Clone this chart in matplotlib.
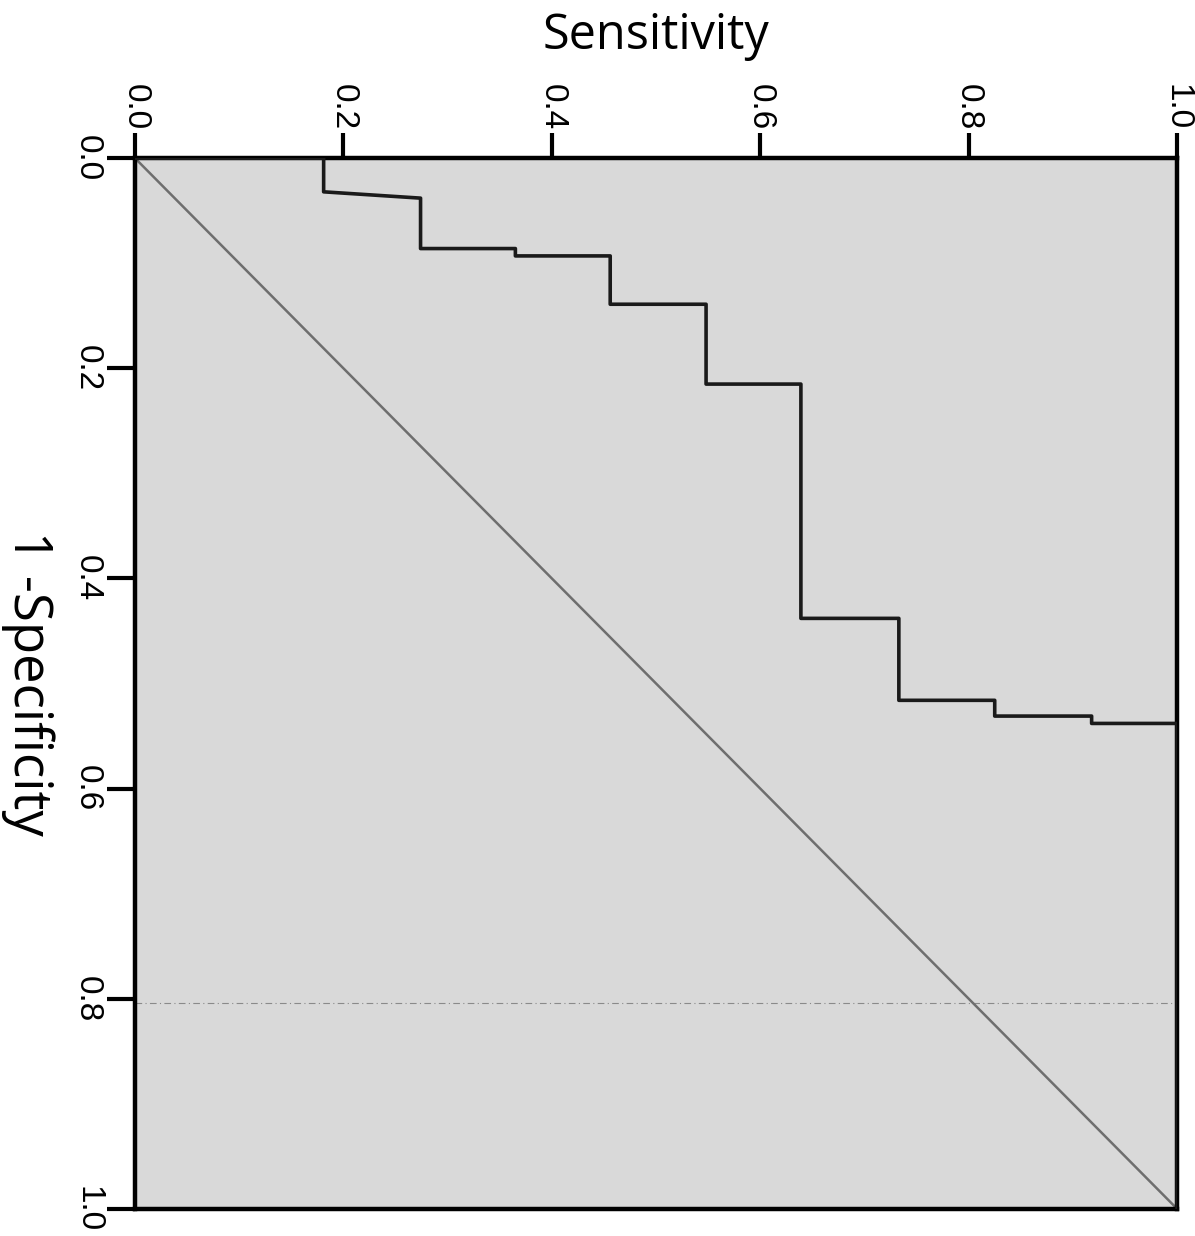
"""Rotated ROC curve: sensitivity along the top, 1 - specificity running down."""

import matplotlib
matplotlib.use("Agg")
import matplotlib.pyplot as plt

# ROC corner points (sensitivity, 1 - specificity)
sensitivity = [0.0, 0.181, 0.181, 0.274, 0.274, 0.365, 0.365, 0.456, 0.456,
               0.548, 0.548, 0.639, 0.639, 0.733, 0.733, 0.825, 0.825,
               0.918, 0.918, 1.0, 1.0]
one_minus_spec = [0.0, 0.0, 0.032, 0.038, 0.086, 0.086, 0.093, 0.093, 0.139,
                  0.139, 0.215, 0.215, 0.438, 0.438, 0.516, 0.516, 0.531,
                  0.531, 0.538, 0.538, 1.0]
ref_line = [0.0, 1.0]
ticks = [0.0, 0.2, 0.4, 0.6, 0.8, 1.0]
tick_labels = ["0.0", "0.2", "0.4", "0.6", "0.8", "1.0"]

plt.rcParams["font.family"] = ["Liberation Sans", "DejaVu Sans"]

fig = plt.figure(figsize=(11.95, 12.36), dpi=100)
ax = fig.add_axes([0.113, 0.022, 0.872, 0.850])
ax.set_facecolor("#d9d9d9")

ax.plot(ref_line, ref_line, color="#6e6e6e", linewidth=1.8, zorder=2)
ax.plot(sensitivity, one_minus_spec, color="#1a1a1a", linewidth=2.6, zorder=3)
ax.axhline(0.804, color="#8a8a8a", linewidth=0.8, linestyle=(0, (6, 3, 1, 3)), zorder=1)

ax.set_xlim(0, 1)
ax.set_ylim(1, 0)
ax.xaxis.tick_top()
ax.xaxis.set_label_position("top")
ax.set_xticks(ticks)
ax.set_yticks(ticks)
ax.set_xticklabels(tick_labels, rotation=-90, fontsize=24)
ax.set_yticklabels(tick_labels, rotation=-90, fontsize=24, va="center")
ax.tick_params(axis="x", direction="out", length=18, width=3, pad=2)
ax.tick_params(axis="y", direction="out", length=20, width=3, pad=3)

for side in ax.spines.values():
    side.set_linewidth(3.2)
    side.set_color("black")

ax.set_xlabel("Sensitivity", fontsize=35, family=["Open Sans", "DejaVu Sans"], va="bottom")
ax.xaxis.set_label_coords(0.5, 1.093)
ax.set_ylabel("1 -Specificity", fontsize=38, family=["Open Sans", "DejaVu Sans"],
              rotation=-90, va="center", ha="center")
ax.yaxis.set_label_coords(-0.103, 0.5)

fig.savefig("out.png", dpi=100)
plt.close(fig)
